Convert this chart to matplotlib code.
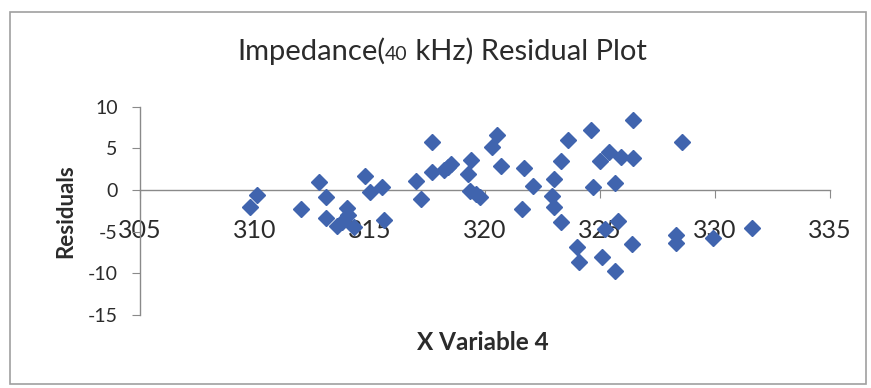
import matplotlib
matplotlib.use("Agg")
import matplotlib.pyplot as plt
from matplotlib.patches import Rectangle

plt.rcParams['font.family'] = ['Lato', 'DejaVu Sans']
plt.rcParams['axes.unicode_minus'] = False

# residuals against X Variable 4
x_var4 = [309.8, 310.1, 312.0, 312.8, 313.1, 313.1, 313.55, 313.8, 314.0, 314.05,
          314.3, 314.8, 315.0, 315.5, 315.6, 317.0, 317.2, 317.7, 317.7, 318.2,
          318.4, 318.5, 319.4, 319.25, 319.35, 319.6, 319.8, 320.3, 320.5, 320.7,
          321.6, 321.7, 322.1, 322.9, 323.0, 323.0, 323.3, 323.3, 323.6, 324.0,
          324.1, 324.6, 324.7, 325.0, 325.1, 325.2, 325.4, 325.65, 325.65, 325.8,
          325.9, 326.45, 326.45, 326.4, 328.55, 328.3, 328.3, 329.9, 331.6]
residuals = [-2.1, -0.6, -2.3, 0.9, -0.9, -3.4, -4.3, -3.8, -2.2, -3.0,
             -4.4, 1.7, -0.2, 0.4, -3.6, 1.1, -1.1, 5.8, 2.1, 2.4,
             2.8, 3.1, 3.6, 1.9, -0.1, -0.5, -0.9, 5.1, 6.6, 2.9,
             -2.3, 2.6, 0.5, -0.7, 1.3, -2.0, -3.9, 3.5, 6.0, -6.8,
             -8.6, 7.2, 0.3, 3.5, -8.0, -4.7, 4.5, 0.8, -9.7, -3.7,
             3.9, 3.8, 8.4, -6.5, 5.7, -5.4, -6.4, -5.8, -4.6]

x_ticks = [305, 310, 315, 320, 325, 330, 335]
y_ticks = [-15, -10, -5, 0, 5, 10]

text_col = '#2b2b2b'
axis_col = '#8a8a8a'

fig = plt.figure(figsize=(8.71, 3.88), dpi=100)
ax = fig.add_axes([140 / 871, 73 / 388, 690 / 871, 208.5 / 388])

ax.plot(x_var4, residuals, linestyle='none', marker='D', ms=8.5,
        color='#4064ae', zorder=3, clip_on=False)

ax.set_xlim(305, 335)
ax.set_ylim(-15, 10)
ax.set_xticks(x_ticks)
ax.set_yticks(y_ticks)

# x axis sits on the zero line, y axis on the left
ax.spines['bottom'].set_position(('data', 0))
for side in ['top', 'right']:
    ax.spines[side].set_visible(False)
for side in ['bottom', 'left']:
    ax.spines[side].set_color(axis_col)
    ax.spines[side].set_linewidth(1.0)

ax.tick_params(axis='x', direction='out', length=6, color=axis_col,
               labelsize=18, labelcolor=text_col, pad=15)
ax.tick_params(axis='y', direction='out', length=6, color=axis_col,
               labelsize=14, labelcolor=text_col, pad=10)

ax.set_ylabel('Residuals', fontsize=16, fontweight='bold', color=text_col,
              labelpad=8)
fig.text(483 / 871, 1 - 342 / 388, 'X Variable 4', fontsize=17.5,
         fontweight='bold', color=text_col, ha='center', va='center')

# title with the smaller "40"
base_y = 1 - 60 / 388
t1 = fig.text(237 / 871, base_y, 'Impedance(', fontsize=21, color=text_col,
              ha='left', va='baseline')
t2 = fig.add_artist(plt.Annotation('40', xy=(1, base_y),
                                   xycoords=(t1, 'figure fraction'),
                                   fontsize=14, color=text_col,
                                   ha='left', va='baseline'))
fig.add_artist(plt.Annotation(' kHz) Residual Plot', xy=(1, base_y),
                              xycoords=(t2, 'figure fraction'),
                              fontsize=21, color=text_col,
                              ha='left', va='baseline'))

# chart area border
fig.add_artist(Rectangle((10 / 871, 4 / 388), 856 / 871, 372 / 388,
                         transform=fig.transFigure, fill=False,
                         edgecolor='#a0a0a0', linewidth=1.2))

fig.savefig('out.png', dpi=100)
